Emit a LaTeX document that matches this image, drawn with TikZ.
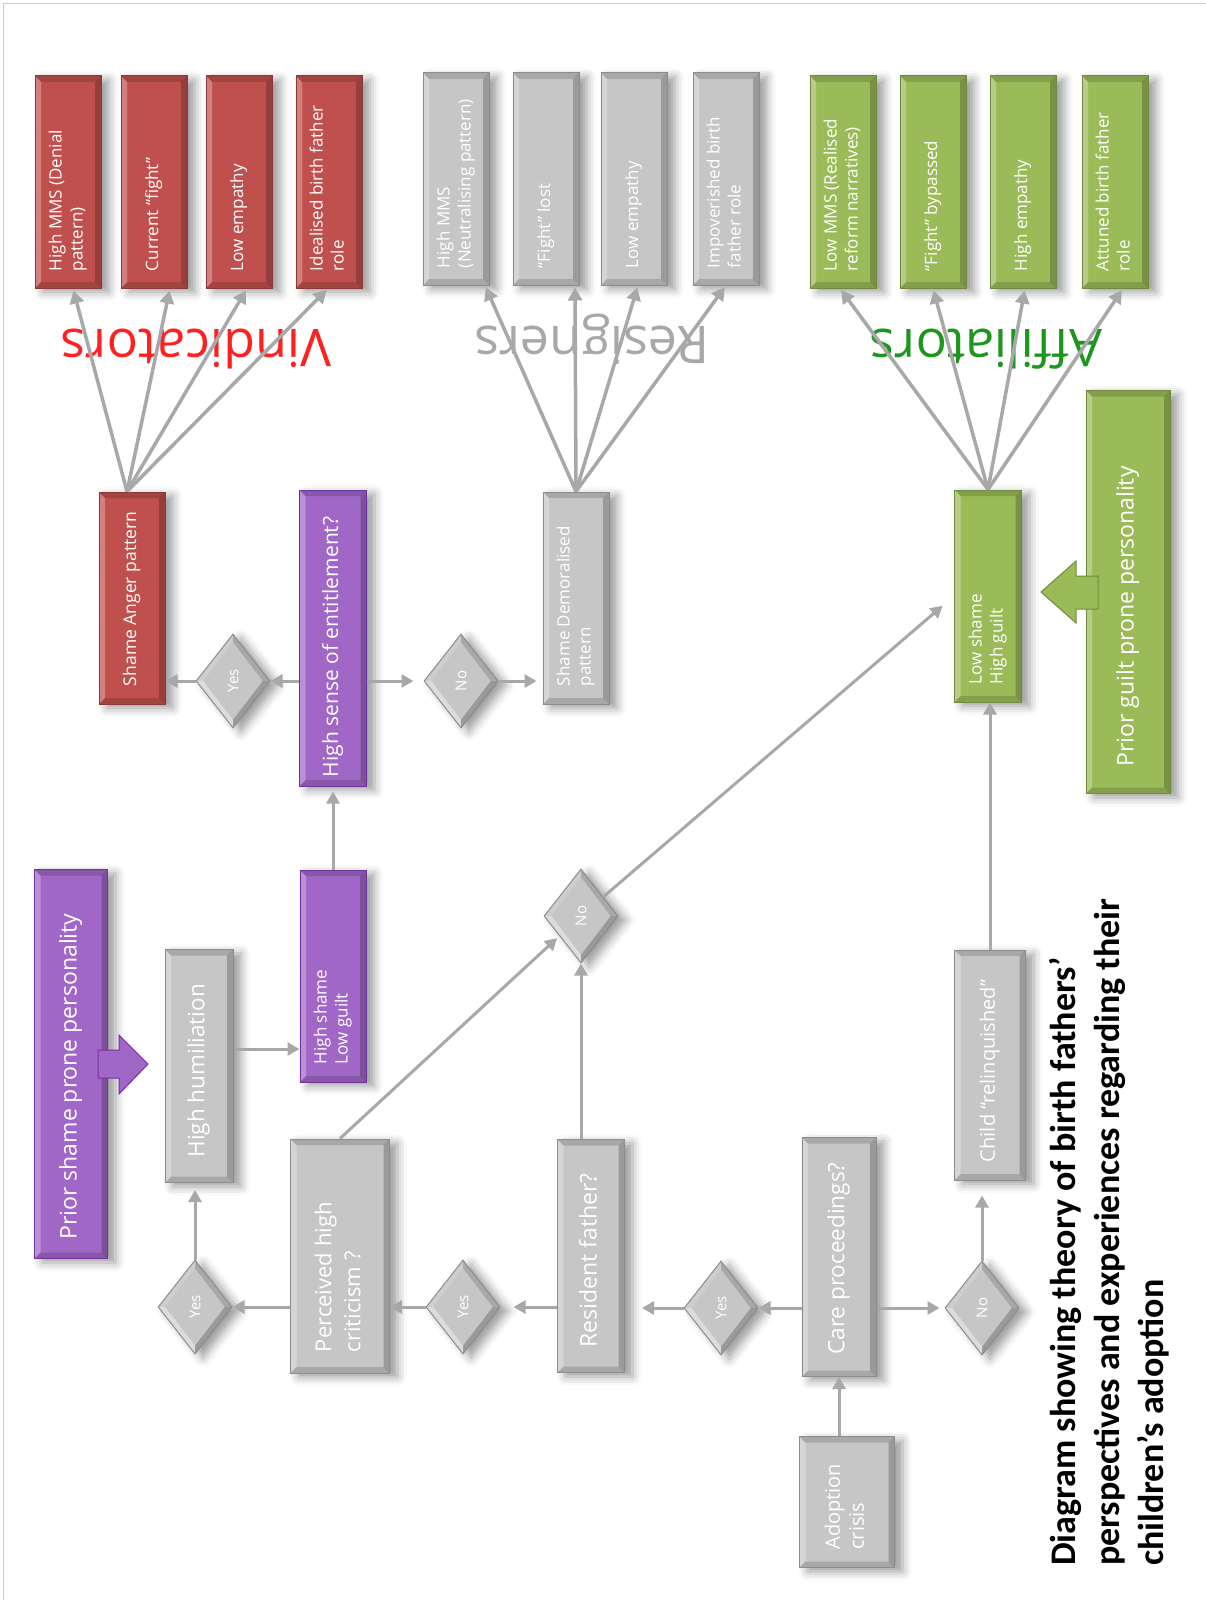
\documentclass[tikz,border=0pt]{standalone}
\usepackage{fontspec}
\setmainfont{Open Sans}
\newfontfamily\titlefont{Carlito}
\usepackage{graphicx}
\usetikzlibrary{shapes,arrows,arrows.meta,shadows.blur}

\definecolor{vredfill}{HTML}{C0504D}
\definecolor{vredline}{HTML}{8C3836}
\definecolor{purplefill}{HTML}{A067C6}
\definecolor{purpleline}{HTML}{7030A0}
\definecolor{greenfill}{HTML}{9BBB59}
\definecolor{greenline}{HTML}{6F8A3C}
\definecolor{greyfill}{HTML}{C6C6C6}
\definecolor{greyline}{HTML}{8C8C8C}
\definecolor{flowgrey}{HTML}{A8A8A8}
\definecolor{framegrey}{HTML}{CCCCCC}
\definecolor{vindred}{HTML}{FF2020}
\definecolor{affgreen}{HTML}{1E961E}

% text set upwards, starting at the bottom of the box
\newcommand{\vtext}[2]{\rotatebox{90}{\makebox[#1][l]{\begin{tabular}{@{}l@{}}#2\end{tabular}}}}

\tikzset{
  softshadow/.style={blur shadow={shadow xshift=8pt,shadow yshift=-4pt,shadow blur radius=9pt,shadow opacity=40}},
  box/.style={rectangle, draw=#1line, fill=#1fill, line width=1pt, text=white, inner sep=0pt, softshadow,
    path picture={
      \coordinate (bsw) at (path picture bounding box.south west);
      \coordinate (bne) at (path picture bounding box.north east);
      \coordinate (bnw) at (bsw|-bne);
      \coordinate (bse) at (bne|-bsw);
      \fill[white,opacity=.28] (bsw) -- ([shift={(6pt,6pt)}]bsw) -- ([shift={(6pt,-6pt)}]bnw) -- (bnw) -- cycle;%left
      \fill[black,opacity=.15] (bnw) -- ([shift={(6pt,-6pt)}]bnw) -- ([shift={(-6pt,-6pt)}]bne) -- (bne) -- cycle;%top
      \fill[black,opacity=.22] (bne) -- ([shift={(-6pt,-6pt)}]bne) -- ([shift={(-6pt,6pt)}]bse) -- (bse) -- cycle;%right
      \fill[black,opacity=.15] (bse) -- ([shift={(-6pt,6pt)}]bse) -- ([shift={(6pt,6pt)}]bsw) -- (bsw) -- cycle;%bottom
    }},
  redbox/.style={box=vred},
  purplebox/.style={box=purple},
  greenbox/.style={box=green},
  greybox/.style={box=grey},
  outbox/.style={minimum width=66pt, minimum height=212pt, font=\fontsize{17}{21}\selectfont},
  dia/.style={diamond, draw=greyline, fill=greyfill, line width=1pt, minimum width=74pt, minimum height=94pt,
    inner sep=0pt, text=white, font=\fontsize{15}{18}\selectfont, softshadow,
    path picture={
      \coordinate (dn) at (path picture bounding box.north);
      \coordinate (ds) at (path picture bounding box.south);
      \coordinate (dw) at (path picture bounding box.west);
      \coordinate (de) at (path picture bounding box.east);
      \fill[white,opacity=.15] (dw) -- (dn) -- ([yshift=-8pt]dn) -- ([xshift=7pt]dw) -- cycle;
      \fill[white,opacity=.40] (dw) -- (ds) -- ([yshift=8pt]ds) -- ([xshift=7pt]dw) -- cycle;
      \fill[black,opacity=.15] (dn) -- (de) -- ([xshift=-7pt]de) -- ([yshift=-8pt]dn) -- cycle;
      \fill[black,opacity=.22] (de) -- (ds) -- ([yshift=8pt]ds) -- ([xshift=-7pt]de) -- cycle;
    }},
  flow/.style={draw=flowgrey, line width=3pt, -{Triangle[length=12pt,width=13pt]}, shorten >=#1},
  flow/.default=0pt,
  fan/.style={draw=flowgrey, line width=3.5pt, -{Triangle[length=13pt,width=14pt]}, shorten >=2pt},
  grouplabel/.style={rotate=180, inner sep=0pt, font=\fontsize{52}{60}\selectfont},
  blockarrow/.style={fill=#1fill, draw=#1line, line width=1pt}
}

\begin{document}
\begin{tikzpicture}[x=1pt,y=-1pt]
\useasboundingbox (0,0) rectangle (1206,1600);
\draw[framegrey,line width=1pt] (3,1600) -- (3,4) -- (1206,4);%page frame

% outcome boxes
\node[redbox,outbox] (v1) at (68,182) {\vtext{178pt}{High MMS (Denial\\pattern)}};
\node[redbox,outbox] (v2) at (154,182) {\vtext{178pt}{Current “fight”}};
\node[redbox,outbox] (v3) at (239,182) {\vtext{178pt}{Low empathy}};
\node[redbox,outbox] (v4) at (329,182) {\vtext{178pt}{Idealised birth father\\role}};
\node[greybox,outbox] (r1) at (456,179) {\vtext{178pt}{High MMS\\(Neutralising pattern)}};
\node[greybox,outbox] (r2) at (546,179) {\vtext{178pt}{“Fight” lost}};
\node[greybox,outbox] (r3) at (634,179) {\vtext{178pt}{Low empathy}};
\node[greybox,outbox] (r4) at (726,179) {\vtext{178pt}{Impoverished birth\\father role}};
\node[greenbox,outbox] (a1) at (843,182) {\vtext{178pt}{Low MMS (Realised\\reform narratives)}};
\node[greenbox,outbox] (a2) at (933,182) {\vtext{178pt}{“Fight” bypassed}};
\node[greenbox,outbox] (a3) at (1023,182) {\vtext{178pt}{High empathy}};
\node[greenbox,outbox] (a4) at (1115,182) {\vtext{178pt}{Attuned birth father\\role}};

% patterns
\node[redbox, minimum width=66pt, minimum height=212pt, font=\fontsize{17.5}{21}\selectfont] (sa) at (132,598) {\vtext{176pt}{Shame Anger pattern}};
\node[purplebox, minimum width=67pt, minimum height=296pt, font=\fontsize{21}{25}\selectfont] (en) at (333,638) {\vtext{278pt}{High sense of entitlement?}};
\node[greybox, minimum width=66pt, minimum height=212pt, font=\fontsize{17}{21}\selectfont] (sd) at (576,598) {\vtext{176pt}{Shame Demoralised\\pattern}};
\node[greenbox, minimum width=67pt, minimum height=212pt, font=\fontsize{17}{21}\selectfont] (ls) at (988,596) {\vtext{176pt}{Low shame\\High guilt}};
\node[greenbox, minimum width=84pt, minimum height=403pt, font=\fontsize{23}{28}\selectfont] (pg) at (1128,592) {\vtext{349pt}{Prior guilt prone personality}};

% left half
\node[purplebox, minimum width=73pt, minimum height=389pt, font=\fontsize{23}{28}\selectfont] (ps) at (71,1064) {\vtext{351pt}{Prior shame prone personality}};
\node[greybox, minimum width=68pt, minimum height=233pt, font=\fontsize{22.5}{27}\selectfont] (hh) at (199,1066) {\vtext{183pt}{High humiliation}};
\node[purplebox, minimum width=66pt, minimum height=212pt, font=\fontsize{17}{21}\selectfont] (hs) at (333,976) {\vtext{176pt}{High shame\\Low guilt}};
\node[greybox, minimum width=99pt, minimum height=234pt, font=\fontsize{22}{29}\selectfont] (pc) at (340,1256) {\vtext{192pt}{Perceived high\\criticism ?}};
\node[greybox, minimum width=67pt, minimum height=233pt, font=\fontsize{23}{28}\selectfont] (rf) at (591,1256) {\vtext{183pt}{Resident father?}};
\node[greybox, minimum width=74pt, minimum height=239pt, font=\fontsize{22.5}{27}\selectfont] (cp) at (839,1257) {\vtext{195pt}{Care proceedings?}};
\node[greybox, minimum width=71pt, minimum height=230pt, font=\fontsize{20}{24}\selectfont] (ch) at (990,1065) {\vtext{194pt}{Child “relinquished”}};
\node[greybox, minimum width=95pt, minimum height=131pt, font=\fontsize{20}{24}\selectfont] (ac) at (847,1502) {\vtext{95pt}{Adoption\\crisis}};

% decisions
\node[dia] (ya) at (233,681) {\rotatebox{90}{Yes}};
\node[dia] (na) at (461,681) {\rotatebox{90}{No}};
\node[dia] (nb) at (581,916) {\rotatebox{90}{No}};
\node[dia] (yb) at (195,1307) {\rotatebox{90}{Yes}};
\node[dia] (yc) at (463,1307) {\rotatebox{90}{Yes}};
\node[dia] (yd) at (721,1308) {\rotatebox{90}{Yes}};
\node[dia] (nc) at (982,1308) {\rotatebox{90}{No}};

% prior personality arrows
\draw[blockarrow=purple] (98,1050) -- (119,1050) -- (119,1035) -- (148,1064) -- (119,1094) -- (119,1078) -- (98,1078) -- cycle;
\draw[blockarrow=green] (1098,576) -- (1076,576) -- (1076,561) -- (1041,592) -- (1076,623) -- (1076,609) -- (1098,609) -- cycle;

% group labels
\node[grouplabel, text=vindred] (vind) at (196,349) {Vindicators};
\node[grouplabel, text=flowgrey] (resi) at (592,339) {Resigners};
\node[grouplabel, text=affgreen] (affi) at (986,349) {Affiliators};

% fans
\foreach \t/\dx in {v1/5,v2/16,v3/8,v4/-1} \draw[fan] ([xshift=-5pt]sa.north) -- ([xshift=\dx pt]\t.south);
\foreach \t/\dx in {r1/29,r2/29,r3/4,r4/0} \draw[fan] (sd.north) -- ([xshift=\dx pt]\t.south);
\foreach \t/\dx in {a1/-3,a2/0,a3/2,a4/8} \draw[fan] (ls.north) -- ([xshift=\dx pt]\t.south);

% flow
\draw[flow] (ya.east -| en.west) -- (ya.east);
\draw[flow] (ya.west) -- (ya.west -| sa.east);
\draw[flow=10pt] (na.west -| en.east) -- (na.west);
\draw[flow=6pt] (na.east) -- (na.east -| sd.west);
\draw[flow=5pt] (hs.north) -- (hs.north |- en.south);
\draw[flow] ([yshift=17pt]hh.east) -- ([yshift=17pt]hh.east -| hs.west);
\draw[flow=7pt] (yb.north) -- (yb.north |- hh.south);
\draw[flow] (yb.east -| pc.west) -- (yb.east);
\draw[flow] (yc.west) -- (yc.west -| pc.east);
\draw[flow=13pt] (yc.east -| rf.west) -- (yc.east);
\draw[flow=17pt] (yd.west) -- (yd.west -| rf.east);
\draw[flow] (yd.east -| cp.west) -- (yd.east);
\draw[flow=5pt] (nc.west -| cp.east) -- (nc.west);
\draw[flow=15pt] (nc.north) -- (nc.north |- ch.south);
\draw[flow] (ch.north) -- (ch.north |- ls.south);
\draw[flow] (cp.south |- ac.north) -- (cp.south);
\draw[flow] (nb.south |- rf.north) -- (nb.south);
\draw[flow=3pt] (pc.north) -- (nb);
\draw[flow=15pt] (nb) -- (ls.west);

% title
\node[rotate=90, anchor=west, align=left, inner sep=0pt, font=\titlefont\bfseries\fontsize{36}{44}\selectfont] (title) at (1109,1566) {Diagram showing theory of birth fathers’\\perspectives and experiences regarding their\\children’s adoption};
\end{tikzpicture}
\end{document}
